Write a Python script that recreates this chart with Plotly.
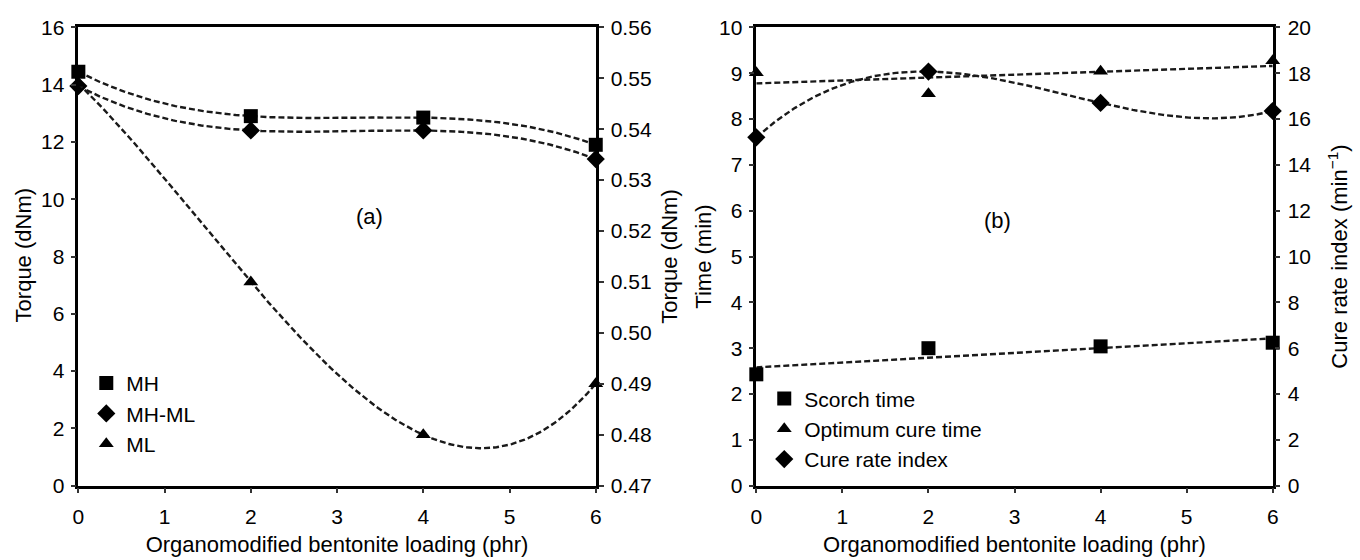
import numpy as np
import plotly.graph_objects as go

# ---------------- data ----------------
loading = [0, 2, 4, 6]                       # phr
mh = [14.45, 12.9, 12.85, 11.9]              # dNm (left axis)
mh_ml = [13.95, 12.4, 12.4, 11.4]            # dNm (left axis)
ml = [0.549, 0.510, 0.480, 0.490]            # dNm (right axis)

scorch_time = [2.43, 3.0, 3.04, 3.12]        # min (left axis)
optimum_cure_time = [9.01, 8.55, 9.04, 9.27] # min (left axis)
cure_rate_index = [15.2, 18.07, 16.7, 16.35] # min^-1 (right axis)

# trendlines (Excel-style: cubic polynomial / linear)
xf = np.linspace(0, 6, 241)
def trend(y, deg):
    return np.polyval(np.polyfit(loading, y, deg), xf)

FONT = "Liberation Sans, Arial, sans-serif"
FS = 21
FT = 22
LINE = dict(color="#1a1a1a", width=2.4, dash="6px,3px")

fig = go.Figure()

def marker_trace(y, name, symbol, size, xa, ya, legend):
    return go.Scatter(x=loading, y=y, mode="markers", name=name,
                      marker=dict(symbol=symbol, size=size, color="black"),
                      xaxis=xa, yaxis=ya, cliponaxis=False, legend=legend,
                      legendgroup=name)

def line_trace(y, xa, ya):
    return go.Scatter(x=xf, y=y, mode="lines", line=LINE, showlegend=False,
                      hoverinfo="skip", xaxis=xa, yaxis=ya)

# panel (a)
fig.add_trace(line_trace(trend(mh, 3), "x", "y"))
fig.add_trace(line_trace(trend(mh_ml, 3), "x", "y"))
fig.add_trace(line_trace(trend(ml, 3), "x", "y2"))
fig.add_trace(marker_trace(mh, "MH", "square", 14, "x", "y", "legend"))
fig.add_trace(marker_trace(mh_ml, "MH-ML", "diamond", 14, "x", "y", "legend"))
fig.add_trace(marker_trace(ml, "ML", "triangle-up", 13, "x", "y2", "legend"))

# panel (b)
fig.add_trace(line_trace(trend(scorch_time, 1), "x2", "y3"))
fig.add_trace(line_trace(trend(optimum_cure_time, 1), "x2", "y3"))
fig.add_trace(line_trace(trend(cure_rate_index, 3), "x2", "y4"))
fig.add_trace(marker_trace(scorch_time, "Scorch time", "square", 14, "x2", "y3", "legend2"))
fig.add_trace(marker_trace(optimum_cure_time, "Optimum cure time", "triangle-up", 13, "x2", "y3", "legend2"))
fig.add_trace(marker_trace(cure_rate_index, "Cure rate index", "diamond", 14, "x2", "y4", "legend2"))

W, H = 1360, 560
dom_a = [73 / W, 595 / W]
dom_b = [757 / W, 1278 / W]
dom_y = [1 - 494 / H, 1 - 16 / H]

axis_common = dict(showline=True, linecolor="black", linewidth=2.5, ticks="outside",
                   ticklen=5, tickwidth=1.5, tickcolor="#333", showgrid=False,
                   zeroline=False, tickfont=dict(size=FS, color="black", family=FONT),
                   title_font=dict(size=FT, color="black", family=FONT))

xtitle = "Organomodified bentonite loading (phr)"

def label(text, x, y, angle=0):
    return dict(text=text, x=x / W, y=1 - y / H, xref="paper", yref="paper",
                xanchor="center", yanchor="middle",
                showarrow=False, textangle=angle, font=dict(size=FT, family=FONT))

fig.update_layout(
    width=W, height=H, margin=dict(l=0, r=0, t=0, b=0),
    paper_bgcolor="white", plot_bgcolor="white",
    font=dict(family=FONT, color="black", size=FS),
    xaxis=dict(domain=dom_a, range=[0, 6], dtick=1, anchor="y", mirror=True,
               ticklabelstandoff=5, title=dict(text=xtitle, standoff=10), **axis_common),
    yaxis=dict(domain=dom_y, range=[0, 16], dtick=2, anchor="x",
               ticklabelstandoff=2, **axis_common),
    yaxis2=dict(range=[0.47, 0.56], tick0=0.47, dtick=0.01, tickformat=".2f",
                overlaying="y", side="right", anchor="x", ticklabelstandoff=3,
                title=dict(text="Torque (dNm)", standoff=11), **axis_common),
    xaxis2=dict(domain=dom_b, range=[0, 6], dtick=1, anchor="y3", mirror=True,
                ticklabelstandoff=5, title=dict(text=xtitle, standoff=10), **axis_common),
    yaxis3=dict(domain=dom_y, range=[0, 10], dtick=1, anchor="x2", ticklabelstandoff=2,
                title=dict(text="Time (min)", standoff=2), **axis_common),
    yaxis4=dict(range=[0, 20], dtick=2, overlaying="y3", side="right", anchor="x2",
                ticklabelstandoff=3,
                title=dict(text="Cure rate index (min<sup>−1</sup>)", standoff=22), **axis_common),
    legend=dict(x=81 / W, y=1 - 366 / H, xanchor="left", yanchor="top",
                bgcolor="rgba(0,0,0,0)", font=dict(size=FS, family=FONT),
                tracegroupgap=0, itemsizing="trace"),
    legend2=dict(x=765 / W, y=1 - 382 / H, xanchor="left", yanchor="top",
                 bgcolor="rgba(0,0,0,0)", font=dict(size=FS, family=FONT),
                 tracegroupgap=0, itemsizing="trace"),
    annotations=[
        label("(a)", 367, 213),
        label("(b)", 1000, 217),
        label("Torque (dNm)", 18, 254, -90),
    ],
)

fig.write_html("out.html")
